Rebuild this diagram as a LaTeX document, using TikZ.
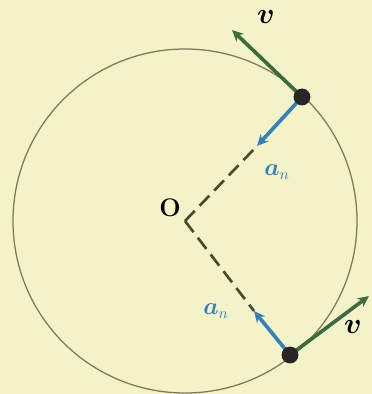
\documentclass[tikz,border=0pt]{standalone}
\usepackage{amsmath,amssymb,bm}
\usetikzlibrary{arrows.meta,calc}
\definecolor{PaperBack}{HTML}{F4F2C8}
\definecolor{CircleLine}{HTML}{7C7A58}
\definecolor{VelGreen}{HTML}{3D6B3E}
\definecolor{AccBlue}{HTML}{3380BF}
\definecolor{RadiusLine}{HTML}{4A4A2E}

\begin{document}
\begin{tikzpicture}[x=0.025cm,y=-0.025cm,
  vecv/.style={draw=VelGreen,line width=2.6pt,-{Stealth[length=8pt,width=7.5pt]}},
  veca/.style={draw=AccBlue,line width=2.6pt,-{Stealth[length=8pt,width=7.5pt]}},
  radline/.style={draw=RadiusLine,line width=1.9pt,dash pattern=on 10pt off 5pt},
  mass/.style={circle,fill=black!85,inner sep=0pt,minimum size=12pt}]
 \fill[PaperBack] (0,0) rectangle (372,394);
 \coordinate (O) at (185,221);
 \draw[CircleLine,line width=0.9pt] (O) circle[radius=172];
 % upper particle
 \coordinate (p1) at (302,97);
 \coordinate (v1) at (232,30);
 \coordinate (a1) at (257,146);
 \draw[radline] (O) -- (a1);
 \draw[vecv] (p1) -- (v1);
 \draw[veca] (p1) -- (a1);
 \node[mass] (m1) at (p1) {};
 % lower particle
 \coordinate (p2) at (290,355);
 \coordinate (v2) at (369,296);
 \coordinate (a2) at (254,311);
 \draw[radline] (O) -- (a2);
 \draw[vecv] (p2) -- (v2);
 \draw[veca] (p2) -- (a2);
 \node[mass] (m2) at (p2) {};
 % labels
 \node (lO) at (170,208) {\fontsize{18}{18}\selectfont\textbf{O}};
 \node (lv1) at (266,17) {\fontsize{20}{20}\selectfont$\boldsymbol{v}$};
 \node (lv2) at (353,327) {\fontsize{20}{20}\selectfont$\boldsymbol{v}$};
 \node[text=AccBlue] (la1) at (277,172) {\fontsize{16}{16}\selectfont$\boldsymbol{a}_{n}$};
 \node[text=AccBlue] (la2) at (216,311) {\fontsize{16}{16}\selectfont$\boldsymbol{a}_{n}$};
\end{tikzpicture}
\end{document}
